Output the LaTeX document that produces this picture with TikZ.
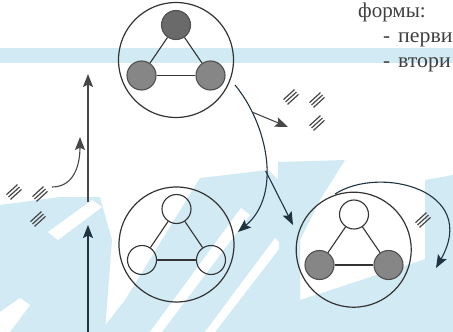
\documentclass[tikz,border=0pt]{standalone}
\usepackage{fontspec}
\setmainfont{Liberation Serif}
\usetikzlibrary{arrows.meta}
\definecolor{bgblue}{HTML}{D2EAF4}
\definecolor{navy}{HTML}{1F3340}
\definecolor{dgray}{HTML}{474747}
\definecolor{ink}{HTML}{333333}
\definecolor{gborder}{HTML}{505050}
\definecolor{gfill}{HTML}{868686}
\definecolor{dfill}{HTML}{6A6A6A}
\definecolor{txt}{HTML}{404040}
\begin{document}
\begin{tikzpicture}[x=1pt,y=-1pt,
  bigcirc/.style={circle,draw=ink,line width=1.2pt,minimum size=115pt,inner sep=0pt},
  subnode/.style={circle,draw=ink,line width=1.1pt,minimum size=29pt,inner sep=0pt},
  gnode/.style={subnode,fill=gfill,draw=gborder},
  dnode/.style={subnode,fill=dfill,draw=gborder},
  wnode/.style={subnode},
  edgeline/.style={draw=ink,line width=1.1pt},
  navyarrow/.style={draw=navy,line width=1.1pt,-{Stealth[length=13pt,width=10pt,inset=2.5pt]}},
  grayarrow/.style={draw=dgray,line width=1.1pt,-{Stealth[length=13pt,width=10pt,inset=2.5pt]}},
  slashline/.style={draw=dgray,line width=1.2pt},
  tripleslash/.pic={
    \draw[slashline] (-7.5,2.6)--(3.5,-7.4);
    \draw[slashline] (-5.5,5)--(5.5,-5);
    \draw[slashline] (-3.5,7.4)--(7.5,-2.6);
  },
  labeltext/.style={anchor=base west,inner sep=0pt,text=txt,font=\fontsize{21}{25}\selectfont}
]
\useasboundingbox (0,0) rectangle (453,332);
\clip (0,0) rectangle (453,332);
% background watermark
\fill[bgblue] (0,48) rectangle (453,63);
\fill[bgblue] (0,205) -- (60,197) -- (100,197) -- (112,240) -- (105,332) -- (0,332) -- cycle;
\fill[white] (48,232) -- (92,200) -- (102,207) -- (58,240) -- cycle;
\fill[white] (0,312) -- (20,298) -- (30,305) -- (10,332) -- (0,332) -- cycle;
\fill[bgblue] (200,178) -- (268,170) -- (300,200) -- (300,332) -- (100,332) -- (125,300) -- cycle;
\fill[white] (150,332) -- (162,332) -- (250,215) -- (241,208) -- cycle;
\fill[white] (205,332) -- (215,332) -- (282,245) -- (275,238) -- cycle;
\fill[bgblue] (278,162) -- (345,160) -- (320,200) -- (300,240) -- (300,332) -- (280,332) -- cycle;
\fill[bgblue] (300,300) -- (453,250) -- (453,332) -- (300,332) -- cycle;
\fill[bgblue] (425,180) -- (453,175) -- (453,260) -- (425,270) -- cycle;

% text
\node[labeltext] (t1) at (358,17) {формы:};
\node[labeltext] (t2d) at (383,42) {-};
\node[labeltext] (t2) at (398,42) {\scalebox{1.04}[1]{перви}};
\node[labeltext] (t3d) at (383,67) {-};
\node[labeltext] (t3) at (398,67) {\scalebox{1.04}[1]{втори}};

% top circle
\node[bigcirc] (A) at (176,60) {};
\node[dnode] (A1) at (176,25) {};
\node[gnode] (A2) at (141.5,75.5) {};
\node[gnode] (A3) at (210.5,75.5) {};
\draw[edgeline] (A1) -- (A2);
\draw[edgeline] (A1) -- (A3);
\draw[edgeline] (A2) -- (A3);

% bottom-left circle
\node[bigcirc] (B) at (176.5,244.5) {};
\node[wnode] (B1) at (176.5,209) {};
\node[wnode] (B2) at (142,260) {};
\node[wnode] (B3) at (211,260) {};
\draw[edgeline] (B1) -- (B2);
\draw[edgeline] (B1) -- (B3);
\draw[edgeline] (B2) -- (B3);

% bottom-right circle
\node[bigcirc] (C) at (353.7,249.7) {};
\node[wnode] (C1) at (354,214.5) {};
\node[gnode] (C2) at (319.5,265) {};
\node[gnode] (C3) at (388.5,265) {};
\draw[edgeline] (C1) -- (C2);
\draw[edgeline] (C1) -- (C3);
\draw[edgeline] (C2) -- (C3);

% left vertical arrows
\coordinate (v0) at (88,332);
\coordinate (v1) at (88,225);
\coordinate (v2) at (88,202);
\coordinate (v3) at (88,74);
\draw[navyarrow] (v0) -- (v1);
\draw[grayarrow] (v2) -- (v3);
\coordinate (s0) at (52,187);
\coordinate (s1) at (80,137);
\draw[grayarrow] (s0) .. controls (74,187) and (80,165) .. (s1);

% big curved arrow
\coordinate (c0) at (235,85);
\coordinate (c1) at (238,232);
\draw[navyarrow] (c0) .. controls (268,125) and (282,195) .. coordinate[pos=0.2] (b1) coordinate[pos=0.57] (b2) (c1);
\coordinate (b1e) at (288,127);
\coordinate (b2e) at (293,225);
\draw[grayarrow] (b1) -- (b1e);
\draw[navyarrow] (b2) -- (b2e);

% right curved arrow
\coordinate (r0) at (335,194);
\coordinate (r1) at (436,268);
\draw[navyarrow] (r0) .. controls (380,165) and (480,190) .. (r1);

% hatch marks
\pic at (14,192) {tripleslash};
\pic at (40,194) {tripleslash};
\pic at (38,219) {tripleslash};
\pic at (291,97) {tripleslash};
\pic at (317,100) {tripleslash};
\pic at (317,123) {tripleslash};
\pic at (423,220) {tripleslash};
\end{tikzpicture}
\end{document}
